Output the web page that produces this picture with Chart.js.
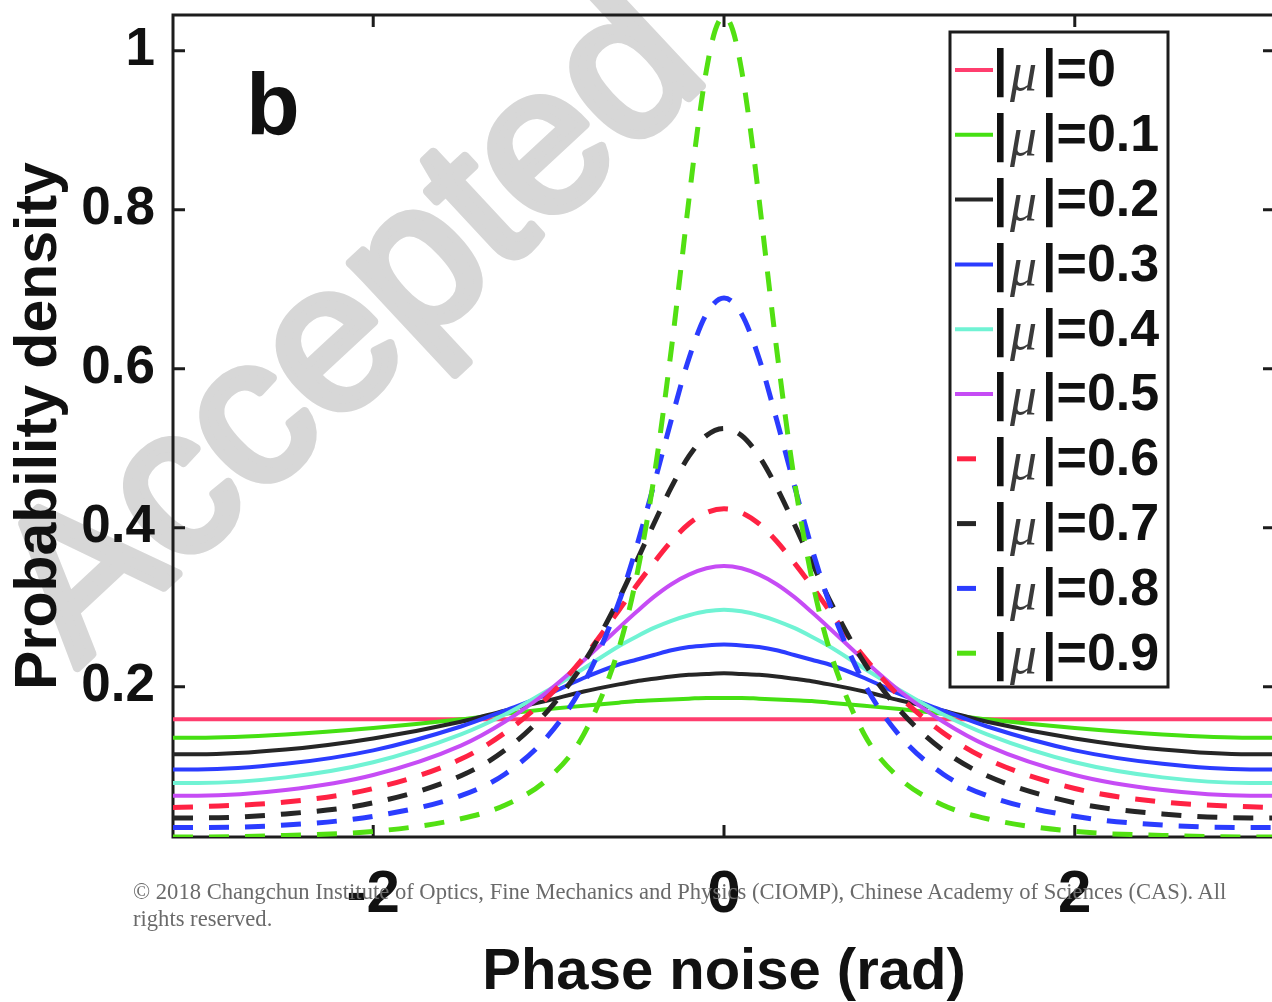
<!DOCTYPE html>
<html>
<head>
<meta charset="utf-8">
<script src="https://cdn.jsdelivr.net/npm/chart.js@4.4.0/dist/chart.umd.min.js"></script>
<style>
html,body{margin:0;padding:0;background:#fff;overflow:hidden;width:1272px;height:1002px;}
#wrap{position:relative;width:1272px;height:1002px;overflow:hidden;}
canvas{position:absolute;left:0;top:0;}
#copy{position:absolute;left:133px;top:878px;white-space:nowrap;font-family:"Liberation Serif","Times New Roman",serif;font-size:22.6px;line-height:27px;color:#6a6a6a;}
</style>
</head>
<body>
<div id="wrap">
<canvas id="c" width="1280" height="1002"></canvas>
<div id="copy">© 2018 Changchun Institute of Optics, Fine Mechanics and Physics (CIOMP), Chinese Academy of Sciences (CAS). All<br>rights reserved.</div>
</div>
<script>
// ---------- data ----------
const phaseGrid = [-3.1416,-3.0,-2.5,-2.0,-1.5,-1.25,-1.0,-0.8,-0.6,-0.5,-0.4,-0.3,-0.2,-0.1,0,0.1,0.2,0.3,0.4,0.5,0.6,0.8,1.0,1.25,1.5,2.0,2.5,3.0,3.1416];
const phaseGridFine = [-3.1416,-3.0,-2.5,-2.0,-1.5,-1.25,-1.0,-0.8,-0.6,-0.5,-0.4,-0.3,-0.25,-0.2,-0.15,-0.1,-0.05,0,0.05,0.1,0.15,0.2,0.25,0.3,0.4,0.5,0.6,0.8,1.0,1.25,1.5,2.0,2.5,3.0,3.1416];

const mu00 = [0.159,0.159,0.159,0.159,0.159,0.159,0.159,0.159,0.159,0.159,0.159,0.159,0.159,0.159,0.159,0.159,0.159,0.159,0.159,0.159,0.159,0.159,0.159,0.159,0.159,0.159,0.159,0.159,0.159];
const mu01 = [0.136,0.136,0.140,0.148,0.159,0.166,0.172,0.176,0.180,0.182,0.183,0.184,0.185,0.186,0.186,0.186,0.185,0.184,0.183,0.182,0.180,0.176,0.172,0.166,0.159,0.148,0.140,0.136,0.136];
const mu02 = [0.115,0.115,0.121,0.135,0.156,0.170,0.183,0.194,0.203,0.207,0.210,0.213,0.215,0.216,0.217,0.216,0.215,0.213,0.210,0.207,0.203,0.194,0.183,0.170,0.156,0.135,0.121,0.115,0.115];
const mu03 = [0.096,0.096,0.103,0.120,0.150,0.170,0.191,0.211,0.228,0.234,0.240,0.246,0.250,0.252,0.253,0.252,0.250,0.246,0.240,0.234,0.228,0.211,0.191,0.170,0.150,0.120,0.103,0.096,0.096];
const mu04 = [0.079,0.079,0.086,0.105,0.140,0.165,0.196,0.223,0.251,0.263,0.274,0.283,0.290,0.295,0.297,0.295,0.290,0.283,0.274,0.263,0.251,0.223,0.196,0.165,0.140,0.105,0.086,0.079,0.079];
const mu05 = [0.063,0.063,0.070,0.089,0.126,0.156,0.195,0.233,0.274,0.294,0.313,0.329,0.341,0.349,0.352,0.349,0.341,0.329,0.313,0.294,0.274,0.233,0.195,0.156,0.126,0.089,0.070,0.063,0.063];
const mu06 = [0.048,0.049,0.055,0.072,0.109,0.142,0.188,0.237,0.296,0.327,0.356,0.383,0.405,0.419,0.424,0.419,0.405,0.383,0.356,0.327,0.296,0.237,0.188,0.142,0.109,0.072,0.055,0.049,0.048];
const mu07 = [0.035,0.035,0.040,0.054,0.088,0.120,0.171,0.230,0.310,0.357,0.405,0.451,0.490,0.516,0.525,0.516,0.490,0.451,0.405,0.357,0.310,0.230,0.171,0.120,0.088,0.054,0.040,0.035,0.035];
const mu08 = [0.023,0.023,0.026,0.037,0.063,0.090,0.139,0.204,0.306,0.375,0.454,0.536,0.613,0.669,0.689,0.669,0.613,0.536,0.454,0.375,0.306,0.204,0.139,0.090,0.063,0.037,0.026,0.023,0.023];
const mu09 = [0.011,0.011,0.013,0.018,0.034,0.051,0.085,0.140,0.248,0.337,0.462,0.625,0.718,0.813,0.902,0.976,1.026,1.043,1.026,0.976,0.902,0.813,0.718,0.625,0.462,0.337,0.248,0.140,0.085,0.051,0.034,0.018,0.013,0.011,0.011];

const muLabels = ['0','0.1','0.2','0.3','0.4','0.5','0.6','0.7','0.8','0.9'];
const xTickValues = [-2, 0, 2];
const yTickValues = [0.2, 0.4, 0.6, 0.8, 1.0];
const xTitle = 'Phase noise (rad)';
const yTitle = 'Probability density';
const panelLetter = 'b';
const watermarkText = 'Accepted';

// ---------- styles ----------
const FONT = '"Liberation Sans", Arial, Helvetica, sans-serif';
const seriesValues = [mu00,mu01,mu02,mu03,mu04,mu05,mu06,mu07,mu08,mu09];
const seriesColors = ['#ff3d6e','#45e012','#262626','#2b3cff','#70f3d4','#c64cf5','#ff2243','#262626','#2b3cff','#52e012'];
const seriesDashed = [false,false,false,false,false,false,true,true,true,true];

const datasets = seriesValues.map((vals, i) => {
  const xs = (i === 9) ? phaseGridFine : phaseGrid;
  return {
    label: '|μ|=' + muLabels[i],
    data: xs.map((x, k) => ({x: x, y: vals[k]})),
    borderColor: seriesColors[i],
    backgroundColor: seriesColors[i],
    borderWidth: seriesDashed[i] ? 5 : 4,
    borderDash: seriesDashed[i] ? [20, 16] : [],
    fill: false,
    pointRadius: 0,
    cubicInterpolationMode: 'monotone',
    order: 9 - i
  };
});

const watermarkPlugin = {
  id: 'watermark',
  beforeDraw(chart) {
    const {ctx} = chart;
    ctx.save();
    ctx.translate(38, 626);
    ctx.rotate(-43 * Math.PI / 180);
    ctx.font = '208px ' + FONT;
    ctx.textBaseline = 'middle';
    ctx.textAlign = 'left';
    ctx.fillStyle = '#d7d7d7';
    ctx.strokeStyle = '#d7d7d7';
    ctx.lineWidth = 9;
    ctx.lineJoin = 'round';
    ctx.fillText(watermarkText, 0, 0);
    ctx.strokeText(watermarkText, 0, 0);
    ctx.restore();
  }
};

const framePlugin = {
  id: 'frame',
  beforeDatasetsDraw(chart) {
    const {ctx, chartArea: a, scales: {x, y}} = chart;
    ctx.save();
    ctx.strokeStyle = '#1c1c1c';
    ctx.lineWidth = 3;
    ctx.strokeRect(a.left, a.top, a.right - a.left, a.bottom - a.top);
    const L = 12;
    ctx.beginPath();
    y.ticks.forEach(t => {
      const p = y.getPixelForValue(t.value);
      ctx.moveTo(a.left, p); ctx.lineTo(a.left + L, p);
      ctx.moveTo(a.right, p); ctx.lineTo(a.right - L, p);
    });
    x.ticks.forEach(t => {
      const p = x.getPixelForValue(t.value);
      ctx.moveTo(p, a.bottom); ctx.lineTo(p, a.bottom - L);
      ctx.moveTo(p, a.top); ctx.lineTo(p, a.top + L);
    });
    ctx.stroke();
    ctx.restore();
  }
};

const overlayPlugin = {
  id: 'overlay',
  afterDatasetsDraw(chart) {
    const {ctx} = chart;
    ctx.save();
    // panel letter
    ctx.fillStyle = '#111';
    ctx.font = 'bold 88px ' + FONT;
    ctx.textBaseline = 'alphabetic';
    ctx.textAlign = 'left';
    ctx.fillText(panelLetter, 246, 134);

    // legend box
    const bx = 950, by = 32, bw = 218, bh = 655;
    ctx.fillStyle = '#fff';
    ctx.fillRect(bx, by, bw, bh);
    ctx.strokeStyle = '#1c1c1c';
    ctx.lineWidth = 3;
    ctx.strokeRect(bx, by, bw, bh);
    for (let i = 0; i < datasets.length; i++) {
      const cy = 70 + i * 64.8;
      ctx.strokeStyle = seriesColors[i];
      ctx.lineWidth = seriesDashed[i] ? 5 : 4;
      ctx.beginPath();
      if (seriesDashed[i]) { ctx.moveTo(957, cy); ctx.lineTo(976, cy); }
      else { ctx.moveTo(955, cy); ctx.lineTo(993, cy); }
      ctx.stroke();
      ctx.textBaseline = 'middle';
      ctx.fillStyle = '#111';
      ctx.font = 'bold 52px ' + FONT;
      ctx.fillText('|', 993, cy + 2);
      ctx.font = 'italic 54px "Liberation Serif", "Times New Roman", serif';
      ctx.fillStyle = '#3a3a3a';
      ctx.fillText('μ', 1010, cy + 6);
      ctx.fillStyle = '#111';
      ctx.font = 'bold 52px ' + FONT;
      ctx.fillText('|=' + muLabels[i], 1042, cy + 2);
    }
    ctx.restore();
  }
};

new Chart(document.getElementById('c').getContext('2d'), {
  type: 'line',
  data: { datasets: datasets },
  options: {
    responsive: false,
    animation: false,
    devicePixelRatio: 1,
    layout: { padding: { top: 15, right: 5, left: 0, bottom: 0 } },
    plugins: { legend: { display: false }, tooltip: { enabled: false } },
    scales: {
      x: {
        type: 'linear',
        min: -Math.PI, max: Math.PI,
        afterBuildTicks: s => { s.ticks = xTickValues.map(v => ({value: v})); },
        afterFit: s => { s.height = 165; s.paddingLeft = 0; s.paddingRight = 0; },
        grid: { display: false, drawTicks: false },
        border: { display: false },
        ticks: { font: { family: FONT, size: 60, weight: 'bold' }, color: '#111', padding: 22, maxRotation: 0, autoSkip: false, callback: v => String(v) },
        title: { display: true, text: xTitle, font: { family: FONT, size: 58, weight: 'bold', lineHeight: 1.0 }, color: '#111', padding: { top: 0, bottom: 0 } }
      },
      y: {
        type: 'linear',
        min: 0.011, max: 1.045,
        afterBuildTicks: s => { s.ticks = yTickValues.map(v => ({value: v})); },
        afterFit: s => { s.width = 173; s.paddingTop = 0; s.paddingBottom = 0; },
        grid: { display: false, drawTicks: false },
        border: { display: false },
        ticks: { font: { family: FONT, size: 53, weight: 'bold' }, color: '#111', padding: 18, autoSkip: false, callback: v => (v === 1 ? '1' : Number(v).toFixed(1)) },
        title: { display: true, text: yTitle, font: { family: FONT, size: 59, weight: 'bold', lineHeight: 1.0 }, color: '#111', padding: { top: 10, bottom: 0 } }
      }
    }
  },
  plugins: [watermarkPlugin, framePlugin, overlayPlugin]
});
</script>
</body>
</html>
